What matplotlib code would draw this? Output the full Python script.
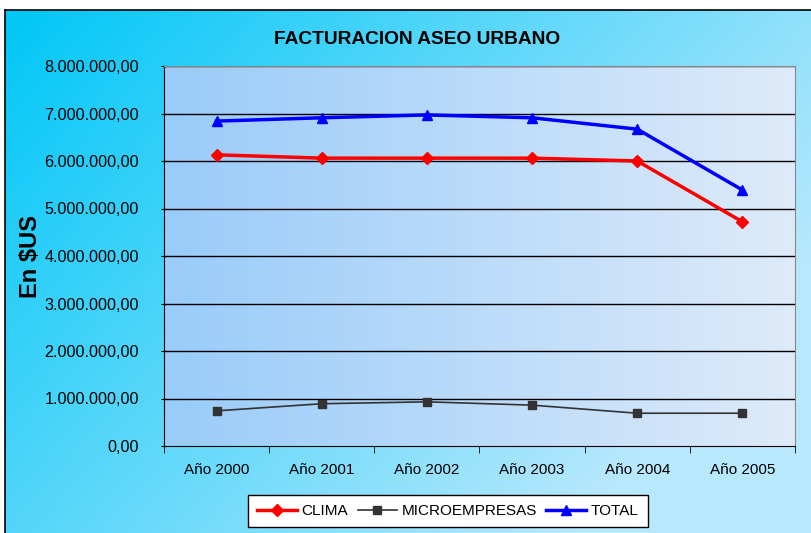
import numpy as np
import matplotlib.pyplot as plt

plt.rcParams['font.family'] = ['Liberation Sans', 'DejaVu Sans']

years = ['Año 2000', 'Año 2001', 'Año 2002', 'Año 2003', 'Año 2004', 'Año 2005']
clima = [6130000, 6060000, 6060000, 6060000, 6000000, 4720000]
micro = [740000, 890000, 930000, 860000, 690000, 690000]
total = [6840000, 6910000, 6970000, 6910000, 6670000, 5390000]
yticks = [0, 1000000, 2000000, 3000000, 4000000, 5000000, 6000000, 7000000, 8000000]


def fmt(v):
    s = f"{v:,.2f}"
    return s.replace(",", "X").replace(".", ",").replace("X", ".")


fig = plt.figure(figsize=(8.11, 5.33), dpi=100)

# outer chart area with cyan gradient (extends past right/bottom edge)
bg = fig.add_axes([5 / 811, -6 / 533, 820 / 811, 529 / 533], zorder=0)
gx, gy = np.meshgrid(np.linspace(0, 1, 200), np.linspace(0, 1, 200))
t = np.clip(0.8 * gx + 0.45 * gy, 0, 1)
c0 = np.array([0.0, 0.78, 0.97])
c1 = np.array([0.72, 0.91, 0.99])
img = c0 + (c1 - c0) * t[..., None]
bg.imshow(img, extent=[0, 1, 0, 1], aspect='auto', origin='upper')
bg.set_xlim(0, 1)
bg.set_ylim(0, 1)
bg.set_xticks([])
bg.set_yticks([])
for s in bg.spines.values():
    s.set_color('black')
    s.set_linewidth(1.2)

ax = fig.add_axes([164 / 811, 1 - 446 / 533, 631 / 811, 380 / 533], zorder=1)
x = np.arange(len(years))

# plot-area gradient
px = np.linspace(0, 1, 300)
pa = np.array([0.60, 0.80, 0.98])
pb = np.array([0.87, 0.92, 0.98])
pimg = pa + (pb - pa) * px[None, :, None]
ax.imshow(np.repeat(pimg, 2, axis=0), extent=[-0.5, 5.5, 0, 8000000],
          aspect='auto', zorder=0)

for v in yticks[1:]:
    ax.axhline(v, color='black', lw=1, zorder=1)

ax.plot(x, clima, color='red', lw=2.5, marker='D', ms=6, label='CLIMA', zorder=3)
ax.plot(x, micro, color='#333333', lw=1.2, marker='s', ms=6, label='MICROEMPRESAS', zorder=3)
ax.plot(x, total, color='blue', lw=2.5, marker='^', ms=7, label='TOTAL', zorder=3)

ax.set_xlim(-0.5, 5.5)
ax.set_ylim(0, 8000000)
ax.set_yticks(yticks)
ax.set_yticklabels([fmt(v) for v in yticks], fontsize=11.6)
ax.set_xticks(x)
ax.set_xticklabels(years, fontsize=11)
ax.set_xticks(np.arange(-0.5, 6, 1), minor=True)
ax.tick_params(axis='x', which='major', length=0, pad=12)
ax.tick_params(axis='x', which='minor', length=5, direction='out', color='black')
ax.tick_params(axis='y', length=5, direction='inout', color='black', pad=15.5)
ax.spines['left'].set_color('black')
ax.spines['bottom'].set_color('black')
ax.spines['top'].set_color('#888888')
ax.spines['right'].set_color('#888888')

ax.set_ylabel('En $US', fontsize=17, fontweight='bold')
ax.yaxis.set_label_coords(-0.193, 0.5)
fig.text(417 / 811, 1 - 40 / 533, 'FACTURACION ASEO URBANO', fontsize=13.8,
         fontweight='bold', ha='center', va='center')

leg = fig.legend(loc='center', bbox_to_anchor=(448 / 811, 1 - 511 / 533), ncol=3,
                 fontsize=11, frameon=True, fancybox=False, handlelength=2.6,
                 columnspacing=0.6, handletextpad=0.3, borderpad=0.6)
leg.get_frame().set_edgecolor('black')
leg.get_frame().set_facecolor('white')
leg.get_frame().set_alpha(1)

plt.savefig('out.png', dpi=100)
